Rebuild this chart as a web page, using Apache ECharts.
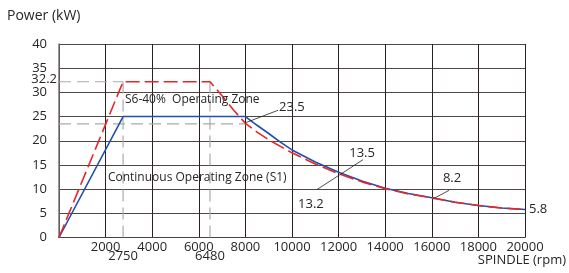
<!DOCTYPE html>
<html><head><meta charset="utf-8">
<script src="https://cdn.jsdelivr.net/npm/echarts@6/dist/echarts.min.js"></script>
<style>html,body{margin:0;padding:0;background:#fff}#c{width:569px;height:273px}</style>
</head><body><div id="c"></div>
<script>
// Continuous (S1) power curve
const s1Speed = [0, 2750, 8000, 8500, 9000, 9500, 10000, 11000, 12000, 13000, 14000, 15000, 16000, 17000, 18000, 19000, 20000];
const s1Power = [0, 25, 25, 23.2, 21.5, 19.7, 18.1, 15.6, 13.5, 11.7, 10.2, 9.1, 8.2, 7.3, 6.6, 6.1, 5.8];
// S6-40% power curve
const s6Speed = [0, 2750, 6480, 7000, 7500, 8000, 8500, 9000, 10000, 11000, 12000, 13000, 14000, 15000, 16000, 17000, 18000, 19000, 20000];
const s6Power = [0, 32.2, 32.2, 29.3, 26.3, 23.6, 21.8, 20.2, 17.5, 15.2, 13.2, 11.5, 10.1, 9.0, 8.2, 7.3, 6.6, 6.1, 5.8];
// axis ticks
const xTicks = [2000, 4000, 6000, 8000, 10000, 12000, 14000, 16000, 18000, 20000];
const yTicks = [0, 5, 10, 15, 20, 25, 30, 35, 40];
const xExtraTicks = [2750, 6480];
const yExtraTicks = [32.2];
// reference (gray dashed) lines in data units
const refLines = [
  [[0, 32.2], [2750, 32.2]],
  [[0, 23.5], [8000, 23.5]],
  [[2750, 0], [2750, 32.2]],
  [[6480, 0], [6480, 32.2]]
];
// annotation leaders: [from, to]
const leaders = [
  [[7990, 23.7], [9400, 26.3]],
  [[11070, 9.9], [13050, 16.1]],
  [[16060, 8.0], [16740, 9.75]]
];
const zoneTexts = ['S6-40%  Operating Zone', 'Continuous Operating Zone (S1)'];
const zoneAnchors = [[2830, 28.6], [2100, 12.4]];

const FONT = 'Open Sans';
const TXT = '#262626';

const series = [];
refLines.forEach(l => series.push({
  type: 'line', data: l, symbol: 'none', silent: true, z: 1,
  lineStyle: { color: '#aaaaaa', width: 1.2, type: [12, 6] }
}));
series.push({
  type: 'line', name: 'S1', data: s1Speed.map((x, i) => [x, s1Power[i]]),
  symbol: 'none', z: 3, lineStyle: { color: '#1f4fb0', width: 1.6 }
});
series.push({
  type: 'line', name: 'S6', data: s6Speed.map((x, i) => [x, s6Power[i]]),
  symbol: 'none', z: 4, lineStyle: { color: '#e8262a', width: 1.6, type: [14, 5] }
});
leaders.forEach(l => series.push({
  type: 'line', data: l, symbol: 'none', silent: true, z: 5,
  lineStyle: { color: '#222', width: 0.8 }
}));
const lblStyle = { fontFamily: FONT, fontSize: 13, color: TXT, opacity: 1 };
series.push({
  type: 'scatter', symbolSize: 0, z: 20, silent: true, clip: false,
  itemStyle: { color: TXT, opacity: 1 },
  data: [
    { value: [9400, 26.3], label: { show: true, formatter: '23.5', position: 'right', distance: 1, offset: [0, -3], ...lblStyle } },
    { value: [13050, 16.1], label: { show: true, formatter: '13.5', position: 'top', distance: 0, offset: [-1, 0], ...lblStyle } },
    { value: [11070, 9.9], label: { show: true, formatter: '13.2', position: 'bottom', distance: 8, offset: [-6, 0], ...lblStyle } },
    { value: [16740, 9.75], label: { show: true, formatter: '8.2', position: 'top', distance: 6, offset: [3, 0], ...lblStyle } },
    { value: [20000, 5.8], label: { show: true, formatter: '5.8', position: 'right', distance: 4, ...lblStyle } },
    ...zoneTexts.map((t, i) => ({ value: zoneAnchors[i], label: { show: true, formatter: t, position: 'right', distance: 0, fontFamily: FONT, fontSize: 12, color: TXT } })),
    ...xExtraTicks.map(v => ({ value: [v, 0], label: { show: true, formatter: String(v), position: 'bottom', distance: 12, ...lblStyle } })),
    ...yExtraTicks.map(v => ({ value: [0, v], label: { show: true, formatter: String(v), position: 'left', distance: 2, offset: [0, -2], ...lblStyle } }))
  ]
});

const chart = echarts.init(document.getElementById('c'), null, { renderer: 'canvas' });
chart.setOption({
  animation: false,
  backgroundColor: '#ffffff',
  grid: { left: 59, right: 44, top: 44, bottom: 35.5 },
  xAxis: {
    type: 'value', min: 0, max: 20000, interval: 2000,
    axisLine: { show: true, lineStyle: { color: '#4a4240', width: 1 } },
    axisTick: { show: false },
    axisLabel: { margin: 3, fontFamily: FONT, fontSize: 13, color: TXT,
      formatter: v => xTicks.includes(v) ? String(v) : '' },
    splitLine: { show: true, lineStyle: { color: '#2b2220', width: 1 } }
  },
  yAxis: {
    type: 'value', min: 0, max: 40, interval: 5,
    axisLine: { show: true, lineStyle: { color: '#7a7270', width: 1.5 } },
    axisTick: { show: false },
    axisLabel: { margin: 12, fontFamily: FONT, fontSize: 13, color: TXT,
      formatter: v => yTicks.includes(v) ? String(v) : '' },
    splitLine: { show: true, lineStyle: { color: '#4f4744', width: 1 } }
  },
  graphic: [
    { type: 'text', left: 7, top: 9, style: { text: 'Power (kW)', fontFamily: FONT, fontSize: 14, fill: TXT } },
    { type: 'text', right: 3, top: 254, style: { text: 'SPINDLE (rpm)', fontFamily: FONT, fontSize: 13, fill: TXT } }
  ],
  series
});
</script>
</body></html>
